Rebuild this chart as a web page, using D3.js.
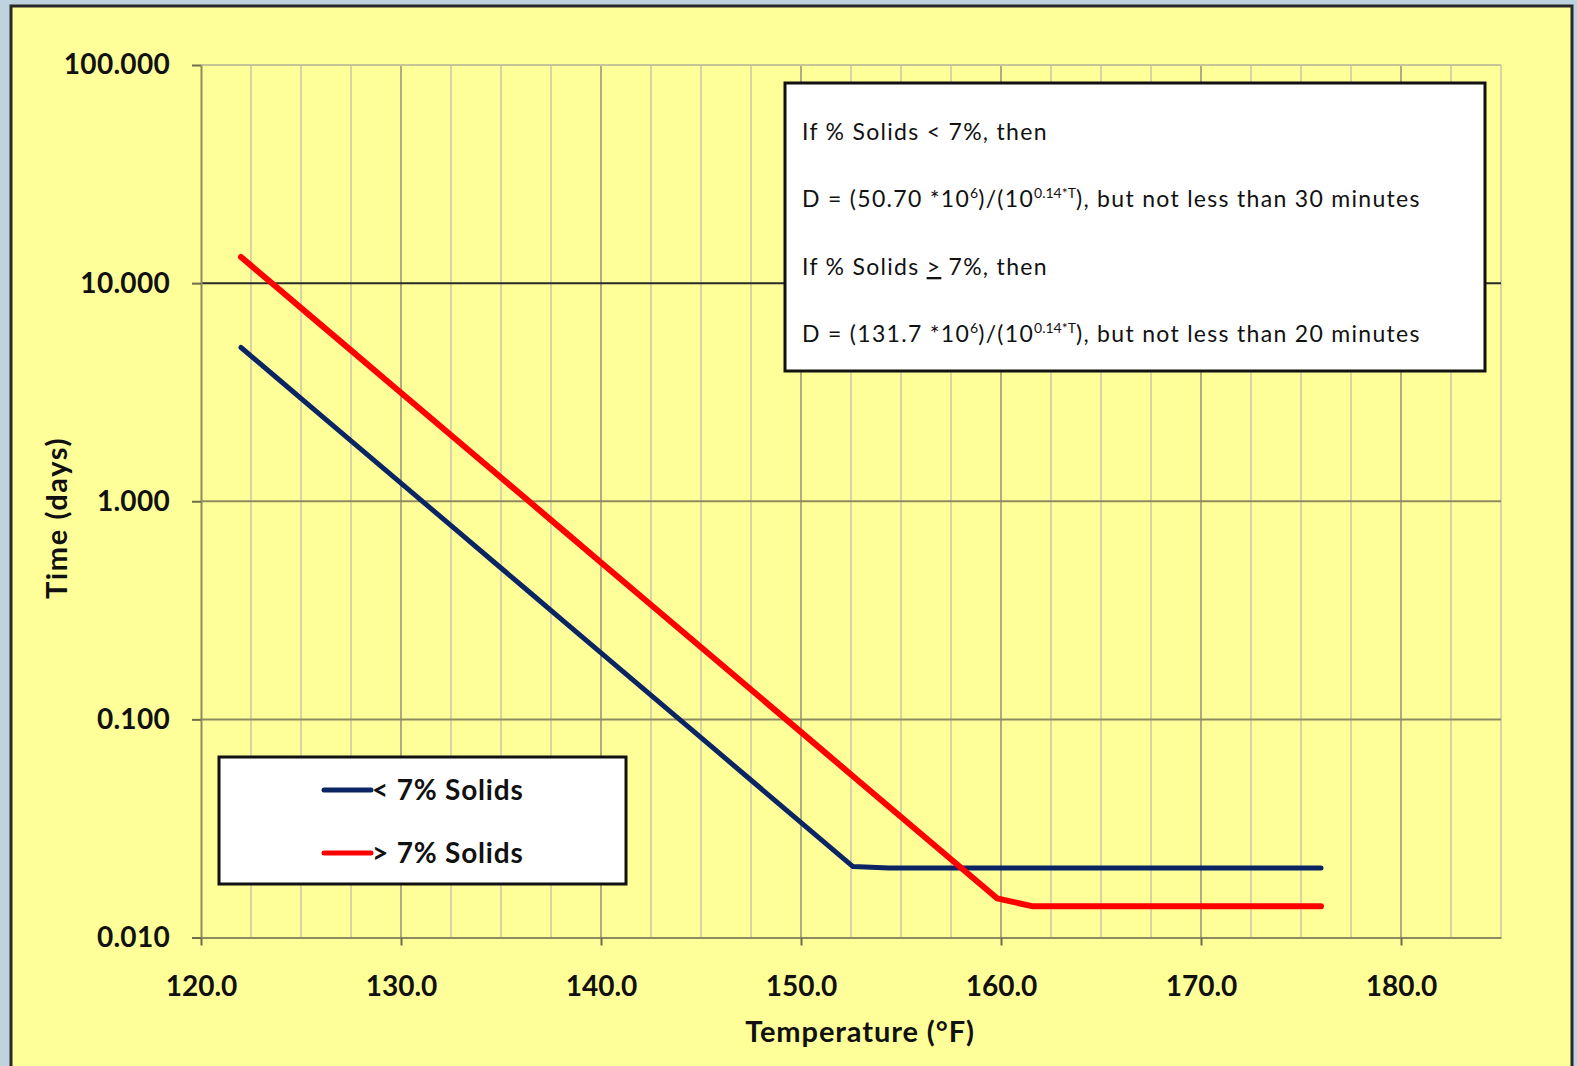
<!DOCTYPE html>
<html>
<head>
<meta charset="utf-8">
<script src="https://cdn.jsdelivr.net/npm/d3@7"></script>
<style>
  html, body { margin: 0; padding: 0; background: #bfd3de; }
  svg { display: block; }
  text { font-family: Lato, "Open Sans", "DejaVu Sans", sans-serif; fill: #111; }
</style>
</head>
<body>
<script>
// Temperatures (°F), one reading per 1 °C step from 50 °C to 80 °C
const temperatures = [122, 123.8, 125.6, 127.4, 129.2, 131, 132.8, 134.6, 136.4, 138.2,
  140, 141.8, 143.6, 145.4, 147.2, 149, 150.8, 152.6, 154.4, 156.2,
  158, 159.8, 161.6, 163.4, 165.2, 167, 168.8, 170.6, 172.4, 174.2, 176];

// Required time (days), solids below 7%
const lowSolidsDays = [5.070, 3.673, 2.661, 1.928, 1.396, 1.012, 0.7328, 0.5309, 0.3846, 0.2786,
  0.2018, 0.1462, 0.1059, 0.07674, 0.05559, 0.04027, 0.02917, 0.02114, 0.02083, 0.02083,
  0.02083, 0.02083, 0.02083, 0.02083, 0.02083, 0.02083, 0.02083, 0.02083, 0.02083, 0.02083, 0.02083];

// Required time (days), solids at or above 7%
const highSolidsDays = [13.17, 9.541, 6.912, 5.007, 3.627, 2.628, 1.904, 1.379, 0.9991, 0.7237,
  0.5243, 0.3798, 0.2752, 0.1993, 0.1444, 0.1046, 0.07579, 0.05490, 0.03977, 0.02881,
  0.02087, 0.01512, 0.01389, 0.01389, 0.01389, 0.01389, 0.01389, 0.01389, 0.01389, 0.01389, 0.01389];

const seriesNames = ["< 7% Solids", "> 7% Solids"];
const xTicks = [120, 130, 140, 150, 160, 170, 180];
const xMinorTicks = [122.5, 125, 127.5, 132.5, 135, 137.5, 142.5, 145, 147.5, 152.5, 155, 157.5,
  162.5, 165, 167.5, 172.5, 175, 177.5, 182.5];
const yTicks = [0.01, 0.1, 1, 10, 100];

const W = 1577, H = 1066;
const svg = d3.select("body").append("svg").attr("width", W).attr("height", H);

// chart panel
svg.append("rect").attr("x", 11).attr("y", 6).attr("width", 1561).attr("height", 1090)
  .attr("fill", "#ffff99").attr("stroke", "#2a2a2a").attr("stroke-width", 3);

const x = d3.scaleLinear().domain([120, 185]).range([201, 1501]);
const y = d3.scaleLog().domain([0.01, 100]).range([937.5, 65]);

const grid = svg.append("g");
// minor vertical grid
grid.selectAll("line.vminor").data(xMinorTicks).join("line")
  .attr("x1", d => x(d)).attr("x2", d => x(d)).attr("y1", y(100)).attr("y2", y(0.01))
  .attr("stroke", "#d8d3a2").attr("stroke-width", 2);
// major vertical grid
grid.selectAll("line.vmajor").data(xTicks.slice(1)).join("line")
  .attr("x1", d => x(d)).attr("x2", d => x(d)).attr("y1", y(100)).attr("y2", y(0.01))
  .attr("stroke", "#aeaa82").attr("stroke-width", 2);
// right border
grid.append("line").attr("x1", x(185)).attr("x2", x(185)).attr("y1", y(100)).attr("y2", y(0.01))
  .attr("stroke", "#d8d3a2").attr("stroke-width", 2);
// horizontal grid
grid.selectAll("line.h").data(yTicks.slice(1)).join("line")
  .attr("x1", x(120)).attr("x2", x(185)).attr("y1", d => y(d)).attr("y2", d => y(d))
  .attr("stroke", d => d === 10 ? "#2a2a2a" : d === 100 ? "#c8c49a" : "#8e8b62")
  .attr("stroke-width", 2);

// axes
const xAxis = d3.axisBottom(x).tickValues(xTicks).tickFormat(d3.format(".1f"))
  .tickSizeInner(8).tickSizeOuter(0).tickPadding(31);
const gx = svg.append("g").attr("transform", `translate(0,${y(0.01)})`).call(xAxis);
gx.select(".domain").attr("stroke", "#8e8b62").attr("stroke-width", 2);
gx.selectAll(".tick line").attr("stroke", "#6e6b4e").attr("stroke-width", 2);
gx.selectAll(".tick text").attr("font-size", 28).attr("font-weight", 700)
  .attr("font-family", "Lato, sans-serif").attr("fill", "#111");

const yAxis = d3.axisLeft(y).tickValues(yTicks).tickFormat(d3.format(".3f"))
  .tickSizeInner(9).tickSizeOuter(0).tickPadding(22);
const gy = svg.append("g").attr("transform", `translate(${x(120)},0)`).call(yAxis);
gy.select(".domain").attr("stroke", "#8e8b62").attr("stroke-width", 2);
gy.selectAll(".tick line").attr("stroke", "#6e6b4e").attr("stroke-width", 2);
gy.selectAll(".tick text").attr("font-size", 28).attr("font-weight", 700)
  .attr("font-family", "Lato, sans-serif").attr("fill", "#111").attr("letter-spacing", 0.3);

// axis titles
svg.append("text").attr("x", 860).attr("y", 1042).attr("text-anchor", "middle")
  .attr("font-size", 29).attr("font-weight", 700).attr("letter-spacing", 0.9).text("Temperature (°F)");
svg.append("text").attr("transform", "translate(67,518) rotate(-90)").attr("text-anchor", "middle")
  .attr("font-size", 29).attr("font-weight", 700).attr("letter-spacing", 1.6).text("Time (days)");

// series
const colors = ["#0b2464", "#ff0000"];
const series = [lowSolidsDays, highSolidsDays];
const line = d3.line().x(d => x(d[0])).y(d => y(d[1]));
series.forEach((vals, i) => {
  svg.append("path").datum(temperatures.map((t, j) => [t, vals[j]]))
    .attr("d", line).attr("fill", "none").attr("stroke", colors[i])
    .attr("stroke-width", i === 0 ? 5 : 6).attr("stroke-linejoin", "round").attr("stroke-linecap", "round");
});

// formula box
const note = svg.append("g");
note.append("rect").attr("x", 785).attr("y", 83).attr("width", 700).attr("height", 288)
  .attr("fill", "#fff").attr("stroke", "#111").attr("stroke-width", 3);
const noteFont = 23, noteSpacing = 1.3;
const t1 = note.append("text").attr("x", 802).attr("y", 140).attr("font-size", noteFont)
  .attr("letter-spacing", noteSpacing);
t1.text("If % Solids < 7%, then");
function formula(yPos, coef, limit) {
  const t = note.append("text").attr("x", 802).attr("y", yPos).attr("font-size", noteFont)
    .attr("letter-spacing", noteSpacing);
  t.append("tspan").text(`D = (${coef} *10`);
  t.append("tspan").attr("dy", -9).attr("font-size", 14).attr("letter-spacing", 0).text("6");
  t.append("tspan").attr("dy", 9).text(")/(10");
  t.append("tspan").attr("dy", -9).attr("font-size", 14).attr("letter-spacing", 0).text("0.14*T");
  t.append("tspan").attr("dy", 9).text(`), but not less than ${limit} minutes`);
}
formula(207, "50.70", 30);
const t3 = note.append("text").attr("x", 802).attr("y", 275).attr("font-size", noteFont)
  .attr("letter-spacing", noteSpacing);
t3.append("tspan").text("If % Solids ");
t3.append("tspan").attr("text-decoration", "underline").text(">");
t3.append("tspan").text(" 7%, then");
formula(342, "131.7", 20);

// legend
const legend = svg.append("g");
legend.append("rect").attr("x", 219).attr("y", 757).attr("width", 407).attr("height", 127)
  .attr("fill", "#fff").attr("stroke", "#111").attr("stroke-width", 3);
seriesNames.forEach((name, i) => {
  const ly = 790 + i * 63;
  legend.append("line").attr("x1", 324).attr("x2", 371).attr("y1", ly).attr("y2", ly)
    .attr("stroke", colors[i]).attr("stroke-width", 5).attr("stroke-linecap", "round");
  legend.append("text").attr("x", 372).attr("y", ly + 10).attr("font-size", 28)
    .attr("font-weight", 700).attr("letter-spacing", 0.8).text(name);
});
</script>
</body>
</html>
